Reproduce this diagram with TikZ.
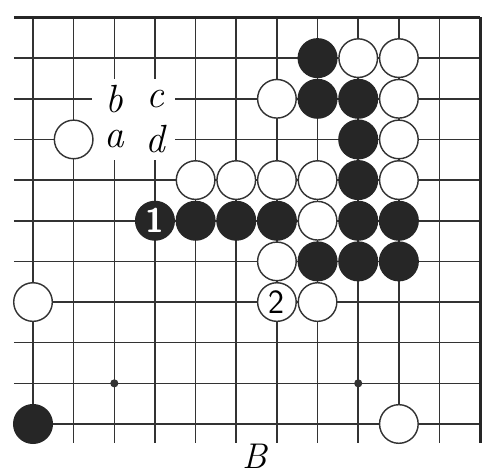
\documentclass[tikz,border=0pt]{standalone}
\usepackage{tikz}

\begin{document}
\begin{tikzpicture}[x=0.8cm, y=-0.8cm,
    gridline/.style={line width=0.9pt, draw=black!80},
    edgeline/.style={line width=1.7pt, draw=black!85},
    wstone/.style={draw=black!80, circle, fill=white, line width=0.8pt, minimum size=0.76cm, inner sep=0pt, font=\fontsize{19}{19}\sffamily},
    bstone/.style={draw=black!85, circle, fill=black!85, line width=0.8pt, minimum size=0.76cm, inner sep=0pt, text=white, font=\fontsize{19}{19}\sffamily\bfseries},
    star/.style={circle, fill=black!80, minimum size=0.16cm, inner sep=0pt},
    letter/.style={inner sep=0pt, font=\fontsize{22}{22}\selectfont\itshape},
]
\useasboundingbox (-0.812, -0.43) rectangle (11.119, 11.279);

% board lines
\foreach \r in {1,...,10}
    \draw[gridline] (-0.47, \r) -- (11, \r);
\foreach \c in {0,...,10}
    \draw[gridline] (\c, 0) -- (\c, 10.47);
\draw[edgeline] (-0.47, 0) -- (11, 0);
\draw[edgeline] (11, 0) -- (11, 10.47);

% star points
\node[star] (hoshi1) at (2, 9) {};
\node[star] (hoshi2) at (8, 9) {};

% letters (lines cleared behind them)
\fill[white] (1.45, 1.52) rectangle (3.5, 3.5);
\node[letter] (pb) at (2, 2) {b};
\node[letter] (pc) at (3, 2) {c};
\node[letter] (pa) at (2, 3) {a};
\node[letter] (pd) at (3, 3) {d};

% white stones
\foreach \c/\r in {8/1, 9/1, 6/2, 9/2, 1/3, 9/3, 4/4, 5/4, 6/4, 7/4, 9/4,
                   7/5, 6/6, 0/7, 7/7, 9/10}
    \node[wstone] (w\c-\r) at (\c, \r) {};

% black stones
\foreach \c/\r in {7/1, 7/2, 8/2, 8/3, 8/4, 4/5, 5/5, 6/5, 8/5, 9/5,
                   7/6, 8/6, 9/6, 0/10}
    \node[bstone] (b\c-\r) at (\c, \r) {};

% numbered moves
\node[bstone] (move1) at (3, 5) {1};
\node[wstone] (move2) at (6, 7) {2};

% caption
\node[font=\fontsize{20}{20}\selectfont\itshape] (cap) at (5.46, 10.8) {B};

\end{tikzpicture}
\end{document}
